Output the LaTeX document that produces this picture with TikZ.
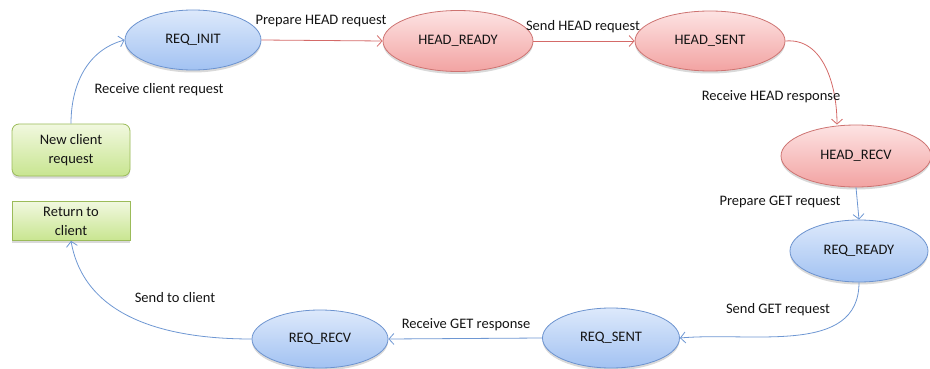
\documentclass[tikz,border=0pt]{standalone}
\usepackage{fontspec}
\setmainfont{Carlito}
\usetikzlibrary{shapes.geometric,arrows.meta,shadows,fadings}
\definecolor{blueedge}{HTML}{6C93CF}
\definecolor{bluetop}{HTML}{DDE9FB}
\definecolor{bluebot}{HTML}{A2C2F2}
\definecolor{redline}{HTML}{C0504D}
\definecolor{redtop}{HTML}{FDE3E3}
\definecolor{redbot}{HTML}{F2A3A2}
\definecolor{greenline}{HTML}{9BBB59}
\definecolor{greentop}{HTML}{F1F8DF}
\definecolor{greenbot}{HTML}{C8E590}
\definecolor{bluewire}{HTML}{6E97D3}
\definecolor{redwire}{HTML}{D46A68}
\tikzset{
  every node/.style={font=\fontsize{14.5}{19}\selectfont, text=black!92},
  softshadow/.style={drop shadow={shadow xshift=0pt, shadow yshift=-2.5pt, opacity=0.25, fill=black!60}},
  bluestate/.style={ellipse, draw=blueedge, line width=0.8pt, top color=bluetop, bottom color=bluebot, softshadow, inner sep=0pt},
  redstate/.style={ellipse, draw=redline!80, line width=0.8pt, top color=redtop, bottom color=redbot, softshadow, inner sep=0pt},
  clientbox/.style={draw=greenline, line width=0.8pt, top color=greentop, bottom color=greenbot, softshadow, align=center, inner sep=0pt},
  bluearrow/.style={draw=bluewire, line width=0.8pt, -{Straight Barb[length=5pt,width=11pt]}},
  redarrow/.style={draw=redwire, line width=0.8pt, -{Straight Barb[length=5pt,width=11pt]}},
  edgelabel/.style={inner sep=0pt, anchor=center}
}
\begin{document}
\begin{tikzpicture}[x=1pt, y=-1pt]
\useasboundingbox (0,0) rectangle (930,369);

% left-hand client boxes
\node[clientbox, rounded corners=7pt, minimum width=118pt, minimum height=52pt] (newreq) at (71,150) {New client\\request};
\node[clientbox, minimum width=118pt, minimum height=39pt] (ret) at (71,221) {Return to\\client};

% state ellipses
\node[bluestate, minimum width=136pt, minimum height=60pt] (reqinit) at (193,40) {REQ\_INIT};
\node[redstate, minimum width=150pt, minimum height=61pt] (headready) at (458,41) {HEAD\_READY};
\node[redstate, minimum width=150pt, minimum height=60pt] (headsent) at (710,41) {HEAD\_SENT};
\node[redstate, minimum width=150pt, minimum height=62pt] (headrecv) at (856,156) {HEAD\_RECV};
\node[bluestate, minimum width=138pt, minimum height=62pt] (reqready) at (859,251) {REQ\_READY};
\node[bluestate, minimum width=137pt, minimum height=60pt] (reqsent) at (611,338) {REQ\_SENT};
\node[bluestate, minimum width=136pt, minimum height=58pt] (reqrecv) at (320,339) {REQ\_RECV};

% transitions
\draw[bluearrow] (newreq.north) to[out=90, in=195] (reqinit.west);
\draw[redarrow] (reqinit.east) -- (headready.west);
\draw[redarrow] (headready.east) -- (headsent.west);
\draw[redarrow] (headsent.east) to[out=5, in=90] (headrecv.north -| 837,0);
\draw[bluearrow] (headrecv.south) -- (reqready.north);
\draw[bluearrow] (reqready.south) to[out=-90, in=5] (reqsent.east);
\draw[bluearrow] (reqsent.west) -- (reqrecv.east);
\draw[bluearrow] (reqrecv.west) to[out=180, in=-80] (ret.south);

% transition labels
\node[edgelabel] (l1) at (159,90) {Receive client request};
\node[edgelabel] (l2) at (321,21) {Prepare HEAD request};
\node[edgelabel] (l3) at (583,27) {Send HEAD request};
\node[edgelabel] (l4) at (771,97) {Receive HEAD response};
\node[edgelabel] (l5) at (780,202) {Prepare GET request};
\node[edgelabel] (l6) at (778,310) {Send GET request};
\node[edgelabel] (l7) at (466,325) {Receive GET response};
\node[edgelabel] (l8) at (175,298) {Send to client};
\end{tikzpicture}
\end{document}
